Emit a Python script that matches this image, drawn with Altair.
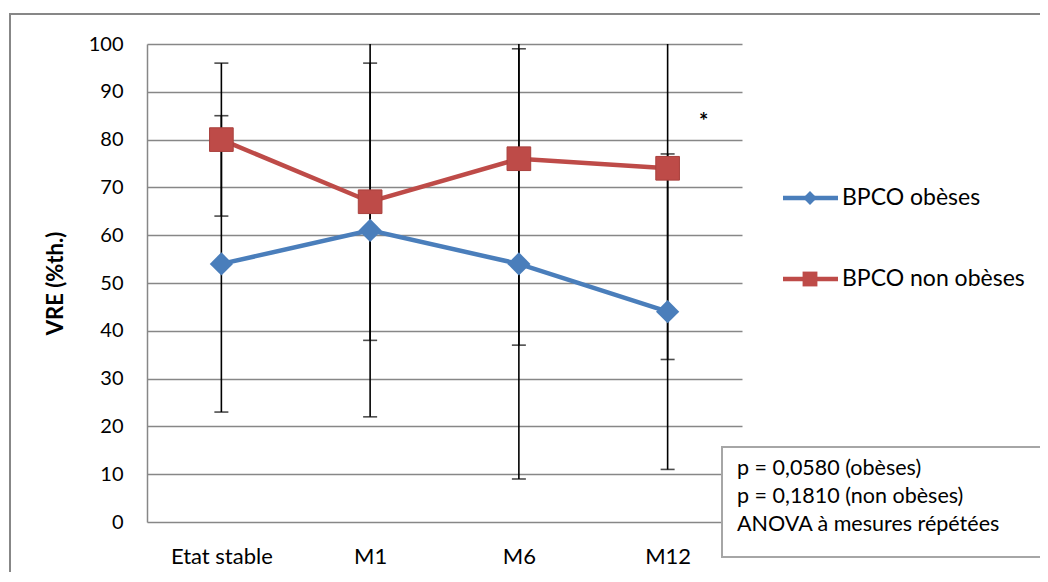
import altair as alt
import pandas as pd

categories = ["Etat stable", "M1", "M6", "M12"]
series_names = ["BPCO obèses", "BPCO non obèses"]
obese_mean = [54, 61, 54, 44]
obese_sd = [31, 39, 45, 33]
nonobese_mean = [80, 67, 76, 74]
nonobese_sd = [16, 29, 39, 40]
y_ticks = [0, 10, 20, 30, 40, 50, 60, 70, 80, 90, 100]
star_cat = "M12"
star_value = 86
anova_lines = ["p = 0,0580 (obèses)", "p = 0,1810 (non obèses)", "ANOVA à mesures répétées"]

colors = ["#4A7EBB", "#BE4B48"]
FONT = "Lato"

rows = []
for name, means, sds in [(series_names[0], obese_mean, obese_sd),
                         (series_names[1], nonobese_mean, nonobese_sd)]:
    for c, m, s in zip(categories, means, sds):
        rows.append({"series": name, "cat": c, "mean": m, "low": m - s, "high": m + s})
df = pd.DataFrame(rows)

caps = pd.concat([
    df[["series", "cat", "low"]].rename(columns={"low": "v"}),
    df[["series", "cat", "high"]].rename(columns={"high": "v"}),
])
caps = caps[(caps["v"] < 100) & (caps["v"] >= 0)]

W, H = 595, 478

xs = alt.X("cat:N", sort=categories, scale=alt.Scale(type="point", padding=0.5),
           axis=alt.Axis(title=None, labelFontSize=22, labelFont=FONT, labelColor="#000",
                         ticks=False, domain=False, grid=False, labelPadding=24, labelAngle=0))
ys = alt.Y("mean:Q", scale=alt.Scale(domain=[0, 100], nice=False),
           axis=alt.Axis(title="VRE (%th.)", values=y_ticks, labelFontSize=20, labelFont=FONT,
                         labelColor="#000", ticks=False, labelPadding=24, grid=True,
                         gridColor="#878787", gridWidth=1.5, domainColor="#878787",
                         domainWidth=1.5, titleFont=FONT, titleFontSize=22,
                         titleFontWeight="bold", titleColor="#000", titlePadding=21))
color = alt.Color("series:N", scale=alt.Scale(domain=series_names, range=colors), legend=None)

base = alt.Chart(df)

frame = alt.Chart(pd.DataFrame({"a": [0]})).mark_rect(
    fillOpacity=0, stroke="#878787", strokeWidth=2, clip=False
).encode(x=alt.value(-137), x2=alt.value(1100), y=alt.value(-30), y2=alt.value(700))

grid_layer = base.mark_line(opacity=0).encode(x=xs, y=ys)

err = base.mark_rule(color="black", strokeWidth=1.6, clip=True).encode(
    x=alt.X("cat:N", sort=categories), y=alt.Y("low:Q"), y2="high:Q")
cap = alt.Chart(caps).mark_tick(color="black", thickness=1.6, size=14).encode(
    x=alt.X("cat:N", sort=categories), y=alt.Y("v:Q"))

lines = base.mark_line(strokeWidth=4.5).encode(x=alt.X("cat:N", sort=categories),
                                                y="mean:Q", color=color, detail="series:N")
pts_obese = base.transform_filter(alt.datum.series == series_names[0]).mark_point(
    shape="diamond", filled=True, size=540, opacity=1, color=colors[0]
).encode(x=alt.X("cat:N", sort=categories), y="mean:Q")
pts_non = base.transform_filter(alt.datum.series == series_names[1]).mark_point(
    shape="square", filled=True, size=560, opacity=1, color=colors[1],
    stroke="#A9403D", strokeWidth=1
).encode(x=alt.X("cat:N", sort=categories), y="mean:Q")

star = alt.Chart(pd.DataFrame({"cat": [star_cat], "v": [star_value], "t": ["*"]})).mark_text(
    font=FONT, fontSize=22, fontWeight="bold", color="#000", dx=36, dy=11, baseline="middle"
).encode(x=alt.X("cat:N", sort=categories), y=alt.Y("v:Q"), text="t:N")

legend_layers = []
leg_y = [154, 235]
leg_shapes = ["diamond", "square"]
leg_sizes = [190, 220]
for i, name in enumerate(series_names):
    ld = alt.Chart(pd.DataFrame({"series": [name]}))
    legend_layers.append(ld.mark_rule(strokeWidth=4.5, color=colors[i], clip=False).encode(
        x=alt.value(636), x2=alt.value(691), y=alt.value(leg_y[i])))
    legend_layers.append(ld.mark_point(shape=leg_shapes[i], filled=True, opacity=1,
                                       size=leg_sizes[i], color=colors[i], clip=False).encode(
        x=alt.value(663), y=alt.value(leg_y[i])))
    legend_layers.append(ld.mark_text(align="left", baseline="middle", font=FONT, fontSize=23,
                                      color="#000", clip=False).encode(
        x=alt.value(695), y=alt.value(leg_y[i]), text="series:N"))

box = alt.Chart(pd.DataFrame({"a": [0]})).mark_rect(
    fill="white", stroke="#A6A6A6", strokeWidth=2, clip=False
).encode(x=alt.value(575), x2=alt.value(900), y=alt.value(403), y2=alt.value(513))

box_text = []
for i, t in enumerate(anova_lines):
    box_text.append(alt.Chart(pd.DataFrame({"t": [t]})).mark_text(
        align="left", baseline="alphabetic", font=FONT, fontSize=21.5, color="#000", clip=False
    ).encode(x=alt.value(590), y=alt.value(431 + 28 * i), text="t:N"))

chart = alt.layer(
    frame, grid_layer, err, cap, lines, pts_obese, pts_non, star, *legend_layers, box, *box_text
).properties(
    width=W, height=H,
    autosize=alt.AutoSizeParams(type="none"),
    padding={"left": 139, "top": 36, "right": 298, "bottom": 50},
    background="white",
).configure_view(strokeWidth=0)

chart.save("out.html", embed_options={"renderer": "svg", "actions": False})
